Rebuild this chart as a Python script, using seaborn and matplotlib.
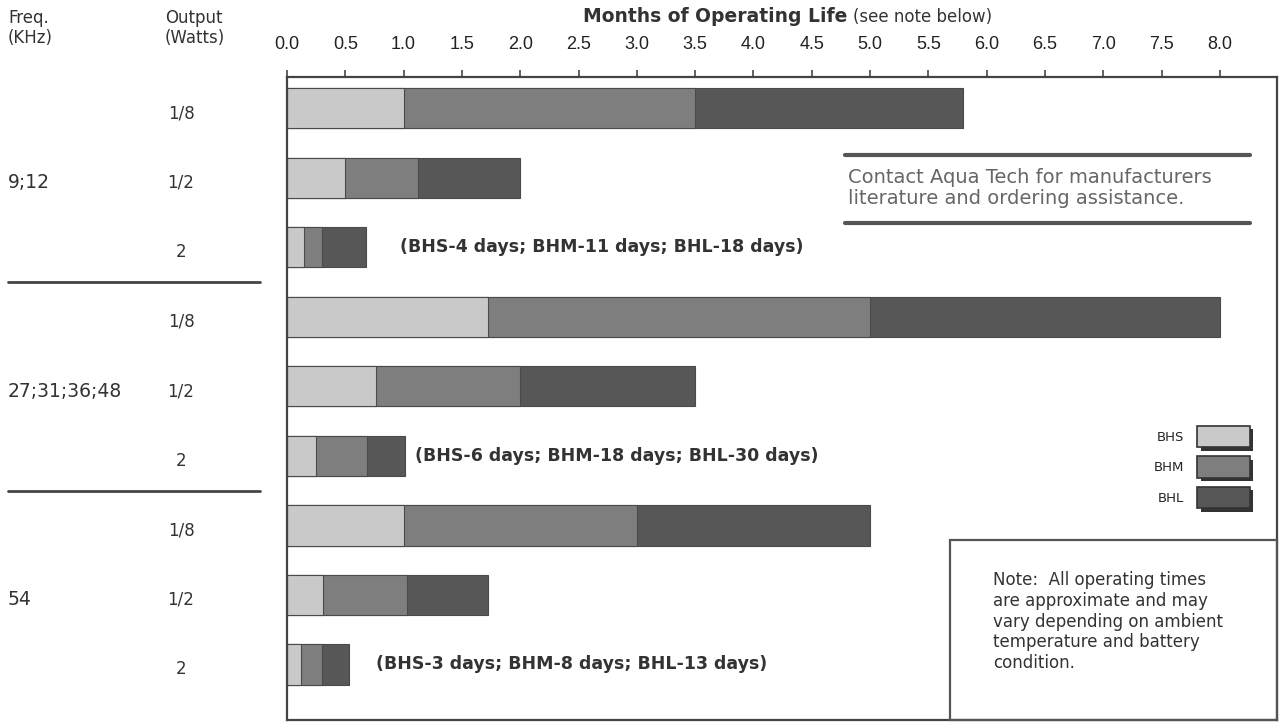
import pandas as pd
import matplotlib.pyplot as plt
import matplotlib.transforms as mtransforms
import matplotlib.patheffects as pe
from matplotlib.patches import Patch, Rectangle
from matplotlib.lines import Line2D
import seaborn as sns

freq_groups = ["9;12", "27;31;36;48", "54"]
outputs = ["1/8", "1/2", "2"] * 3
bhs = [1.0, 0.5, 0.15, 1.72, 0.76, 0.25, 1.0, 0.31, 0.12]
bhm = [3.5, 1.12, 0.3, 5.0, 2.0, 0.69, 3.0, 1.03, 0.3]
bhl = [5.8, 2.0, 0.68, 8.0, 3.5, 1.01, 5.0, 1.72, 0.53]
day_notes = {
    2: "(BHS-4 days; BHM-11 days; BHL-18 days)",
    5: "(BHS-6 days; BHM-18 days; BHL-30 days)",
    8: "(BHS-3 days; BHM-8 days; BHL-13 days)",
}
xticks = [i * 0.5 for i in range(17)]

# where the day notes start (x in months)
note_x = {2: 0.97, 5: 1.10, 8: 0.76}

rows = [f"r{i}" for i in range(len(outputs))]
df = pd.DataFrame({"row": rows, "BHS": bhs, "BHM": bhm, "BHL": bhl})

colors = {"BHS": "#c9c9c9", "BHM": "#7e7e7e", "BHL": "#575757"}

sns.set_style("white")
plt.rcParams["font.family"] = ["DejaVu Sans"]

W, H = 1281, 723
fig = plt.figure(figsize=(W / 100, H / 100), dpi=100)
ax = fig.add_axes([287 / W, 1 - 720 / H, (1277 - 287) / W, (720 - 77) / H])


def fx(px):
    return px / W


def fy(py):
    return 1 - py / H


# longest first, shorter series drawn on top
for name in ["BHL", "BHM", "BHS"]:
    sns.barplot(data=df, x=name, y="row", orient="h", color=colors[name],
                width=0.58, edgecolor="#4a4a4a", linewidth=0.8,
                saturation=1, ax=ax)

ax.set_xlim(0, 8.49)
ax.set_ylim(8.8, -0.45)
ax.xaxis.tick_top()
ax.set_xticks(xticks)
ax.set_xticklabels([f"{t:.1f}" for t in xticks], fontsize=13, color="#222",
                   family="Liberation Sans")
ax.tick_params(axis="x", direction="out", length=5, width=1.2, pad=12, colors="#444")
ax.tick_params(axis="x", labelcolor="#222")
ax.set_yticks([])
ax.set_xlabel("")
ax.set_ylabel("")
for s in ax.spines.values():
    s.set_color("#444")
    s.set_linewidth(1.6)

# notes in days next to the short bars
for i, txt in day_notes.items():
    ax.text(note_x[i], i, txt, va="center", ha="left", fontsize=12.5,
            fontweight="bold", color="#333")

# left side labels
blend = mtransforms.blended_transform_factory(fig.transFigure, ax.transData)
for i, o in enumerate(outputs):
    ax.text(fx(181), i + 0.07, o, transform=blend, ha="center", va="center",
            fontsize=12, color="#333")
for g, name in enumerate(freq_groups):
    ax.text(fx(8), 3 * g + 1.07, name, transform=blend, ha="left", va="center",
            fontsize=13.5, color="#333")
for yv in [2.5, 5.5]:
    ax.plot([fx(8), fx(260)], [yv, yv], transform=blend, color="#444", lw=2,
            clip_on=False)

fig.text(fx(8), fy(9), "Freq.\n(KHz)", ha="left", va="top", fontsize=12,
         color="#333", linespacing=1.15)
fig.text(fx(165), fy(9), "Output\n(Watts)", ha="left", va="top", fontsize=12,
         color="#333", linespacing=1.15)
t1 = fig.text(fx(583), fy(17), "Months of Operating Life", ha="left", va="center",
              fontsize=13.5, fontweight="bold", color="#333")
fig.canvas.draw()
bb = t1.get_window_extent()
fig.text(fx(bb.x1 + 6), fy(17), "(see note below)", ha="left", va="center",
         fontsize=12, color="#333")

# contact block
for py in [155, 223]:
    fig.add_artist(Line2D([fx(845), fx(1250)], [fy(py), fy(py)], color="#555", lw=3))
fig.text(fx(848), fy(188), "Contact Aqua Tech for manufacturers\nliterature and ordering assistance.",
         ha="left", va="center", fontsize=14, color="#666", linespacing=1.1)

# legend, labels on the left of swatches
handles = [Patch(facecolor=colors[n], edgecolor="#333", linewidth=1.2, label=n)
           for n in ["BHS", "BHM", "BHL"]]
leg = fig.legend(handles=handles, loc="upper right", bbox_to_anchor=(fx(1250), fy(426)),
                 bbox_transform=fig.transFigure, frameon=False, markerfirst=False,
                 fontsize=9.5, handlelength=4.0, handleheight=2.1, labelspacing=0.7,
                 handletextpad=1.0, borderpad=0, borderaxespad=0)
for p in leg.get_patches():
    p.set_path_effects([pe.SimplePatchShadow(offset=(2.5, -2.5), shadow_rgbFace="#333",
                                             alpha=1.0), pe.Normal()])

# note box
fig.add_artist(Rectangle((fx(950), fy(720)), fx(1277) - fx(950), fy(540) - fy(720),
                         fill=False, edgecolor="#555", lw=1.6))
fig.text(fx(993), fy(571),
         "Note:  All operating times\nare approximate and may\nvary depending on ambient\ntemperature and battery\ncondition.",
         ha="left", va="top", fontsize=12, color="#333", linespacing=1.2)

fig.savefig("out.png", dpi=100)
